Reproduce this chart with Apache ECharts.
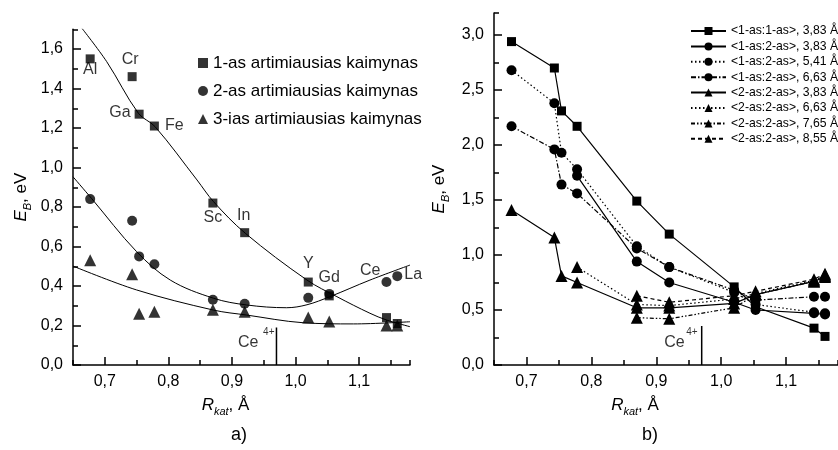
<!DOCTYPE html>
<html>
<head>
<meta charset="utf-8">
<script src="https://cdn.jsdelivr.net/npm/echarts@6/dist/echarts.min.js"></script>
<style>
  html, body { margin: 0; padding: 0; background: #fff; }
  #chart { width: 838px; height: 450px; }
</style>
</head>
<body>
<div id="chart"></div>
<script>
// cation radius, Å (same dopants in both panels)
const rKat = [0.677, 0.743, 0.754, 0.778, 0.87, 0.92, 1.02, 1.053, 1.143, 1.16]
const elements = ["Al", "Cr", "Ga", "Fe", "Sc", "In", "Y", "Gd", "Ce", "La"]

// a) binding energy vs nearest neighbour
const nn1 = [1.55, 1.46, 1.27, 1.21, 0.82, 0.67, 0.42, 0.35, 0.24, 0.21]
const nn2 = [0.84, 0.73, 0.55, 0.51, 0.33, 0.31, 0.34, 0.36, 0.42, 0.45]
const nn3 = [0.53, 0.46, 0.26, 0.27, 0.28, 0.27, 0.24, 0.22, 0.20, 0.20]
// fitted curves, points
const fit1 = [[0.664, 1.705], [0.703, 1.536], [0.753, 1.274], [0.779, 1.207], [0.845, 0.937], [0.871, 0.827],
  [0.921, 0.667], [1.018, 0.43], [1.065, 0.346], [1.117, 0.262], [1.143, 0.228], [1.18, 0.194]]
const fit2 = [[0.65, 0.953], [0.679, 0.844], [0.750, 0.574], [0.803, 0.43], [0.871, 0.338], [0.923, 0.304],
  [0.986, 0.29], [1.018, 0.305], [1.054, 0.346], [1.117, 0.43], [1.18, 0.506]]
const fit3 = [[0.65, 0.501], [0.750, 0.38], [0.871, 0.278], [0.923, 0.253], [1.012, 0.214], [1.091, 0.208], [1.18, 0.219]]
const namesA = ["1-as artimiausias kaimynas", "2-as artimiausias kaimynas", "3-ias artimiausias kaimynas"]

// b) pair binding energies
const b11_383 = [2.94, 2.70, 2.31, 2.17, 1.49, 1.19, 0.71, 0.53, 0.335, 0.26]
const b12_383 = [null, null, null, 1.72, 0.94, 0.75, 0.57, 0.50, 0.47, 0.46]
const b12_541 = [2.68, 2.38, 1.93, 1.78, 1.08, 0.89, 0.66, 0.55, 0.48, 0.47]
const b12_663 = [2.17, 1.96, 1.64, 1.56, 1.06, 0.89, 0.68, 0.59, 0.62, 0.62]
const b22_383 = [1.41, 1.16, 0.81, 0.75, 0.52, 0.52, 0.56, 0.64, 0.76, 0.80]
const b22_663 = [null, null, null, 0.89, 0.55, 0.54, 0.60, 0.65, 0.77, 0.81]
const b22_765 = [null, null, null, null, 0.43, 0.42, 0.52, 0.64, 0.76, 0.82]
const b22_855 = [null, null, null, null, 0.63, 0.57, 0.63, 0.67, 0.78, 0.83]
const namesB = [
  "<1-as:1-as>, 3,83 Å", "<1-as:2-as>, 3,83 Å", "<1-as:2-as>, 5,41 Å", "<1-as:2-as>, 6,63 Å",
  "<2-as:2-as>, 3,83 Å", "<2-as:2-as>, 6,63 Å", "<2-as:2-as>, 7,65 Å", "<2-as:2-as>, 8,55 Å"
]

// Ce4+ radius marker
const ce4x = 0.97
const ce4topA = 0.19
const ce4topB = 0.355

// ticks (labelled ones; minor ticks come from a half-step interval)
const xTicks = [0.7, 0.8, 0.9, 1.0, 1.1]
const yTicksA = [0, 0.2, 0.4, 0.6, 0.8, 1.0, 1.2, 1.4, 1.6]
const yTicksB = [0, 0.5, 1.0, 1.5, 2.0, 2.5, 3.0]

const FONT = "Liberation Sans"
const fmt = (v) => v.toFixed(1).replace(".", ",")
const pairs = (arr) => rKat.map((x, i) => [x, arr[i]]).filter((p) => p[1] != null)

const dotted = [1.5, 2.5]
const dashDot = [5, 2, 1.5, 2]
const dashDotDot = [4, 2, 1.5, 2, 1.5, 2]
const dashed = [4, 3]

const nameRich = {
  i: { fontStyle: "italic", fontSize: 17, fontFamily: FONT, color: "#000", verticalAlign: "middle", lineHeight: 24 },
  sub: { fontStyle: "italic", fontSize: 11, fontFamily: FONT, color: "#000", verticalAlign: "bottom", lineHeight: 12 },
  n: { fontSize: 17, fontFamily: FONT, color: "#000", verticalAlign: "middle", lineHeight: 24 }
}

function mainX(grid, pad) {
  return {
    type: "value", gridIndex: grid, min: 0.65, max: 1.18, position: "bottom",
    axisLine: { show: true, onZero: false, lineStyle: { color: "#000", width: 1.5 } },
    axisTick: { show: true, inside: true, length: 8, customValues: xTicks, lineStyle: { color: "#000", width: 1.5 } },
    axisLabel: { customValues: xTicks, formatter: fmt, color: "#000", fontSize: 16, fontFamily: FONT, margin: 9 },
    splitLine: { show: false },
    name: "{i|R}{sub|kat}{n|, Å}", nameLocation: "middle", nameGap: 28,
    nameTextStyle: { rich: nameRich, padding: [0, pad, 0, 0] }
  }
}
function minorX(grid) {
  return {
    type: "value", gridIndex: grid, min: 0.65, max: 1.18, interval: 0.05, position: "bottom",
    axisLine: { show: false, onZero: false },
    axisTick: { show: true, inside: true, length: 5, lineStyle: { color: "#000", width: 1.5 } },
    axisLabel: { show: false }, splitLine: { show: false }
  }
}
function mainY(grid, max, ticks, gap) {
  return {
    type: "value", gridIndex: grid, min: 0, max: max, position: "left",
    axisLine: { show: true, onZero: false, lineStyle: { color: "#000", width: 1.5 } },
    axisTick: { show: true, inside: true, length: 8, customValues: ticks, lineStyle: { color: "#000", width: 1.5 } },
    axisLabel: { customValues: ticks, formatter: fmt, color: "#000", fontSize: 16, fontFamily: FONT, margin: 10 },
    splitLine: { show: false },
    name: "{i|E}{sub|B}{n|, eV}", nameLocation: "middle", nameGap: gap, nameRotate: 90,
    nameTextStyle: { rich: nameRich }
  }
}
function minorY(grid, max, step) {
  return {
    type: "value", gridIndex: grid, min: 0, max: max, interval: step, position: "left",
    axisLine: { show: false, onZero: false },
    axisTick: { show: true, inside: true, length: 5, lineStyle: { color: "#000", width: 1.5 } },
    axisLabel: { show: false }, splitLine: { show: false }
  }
}

// label placement for element names in panel a
const sqLabel = {
  Al: { position: "bottom", distance: -2 },
  Cr: { position: "top", distance: 5, offset: [-2, 0] },
  Ga: { position: "left", distance: 4, offset: [0, -2] },
  Fe: { position: "right", distance: 6 },
  Sc: { position: "bottom", distance: 2 },
  In: { position: "top", distance: 5, offset: [-1, 0] },
  Y: { position: "top", distance: 6 },
  Gd: { position: "top", distance: 6 }
}
const ciLabel = {
  Ce: { position: "left", distance: 1, offset: [0, -11] },
  La: { position: "right", distance: 2, offset: [0, -2] }
}
const labelText = { color: "#000", fontSize: 16, fontFamily: FONT }

function labelled(arr, map) {
  return rKat.map((x, i) => {
    const l = map[elements[i]]
    const item = { value: [x, arr[i]] }
    if (l) item.label = Object.assign({ show: true, formatter: elements[i] }, labelText, l)
    return item
  })
}

// vertical Ce4+ marker; "Ce" and superscript "4+" hang on invisible anchors left of it
function ceSeries(xi, yi, top, ceY, supY, ceDist, supDist) {
  return [
    { type: "line", xAxisIndex: xi, yAxisIndex: yi, symbol: "none", silent: true,
      lineStyle: { color: "#000", width: 1.5 }, data: [[ce4x, 0], [ce4x, top]] },
    { type: "scatter", xAxisIndex: xi, yAxisIndex: yi, symbolSize: 2, silent: true,
      itemStyle: { color: "rgba(0,0,0,0)" }, labelLayout: { hideOverlap: false },
      data: [
        { value: [ce4x, ceY], label: Object.assign({ show: true, position: "left", distance: ceDist, formatter: "Ce" }, labelText) },
        { value: [ce4x, supY], label: Object.assign({ show: true, position: "left", distance: supDist, formatter: "4+" }, labelText, { fontSize: 10 }) }
      ] }
  ]
}

const black = "#000"
function fitSeries(pts) {
  return { type: "line", xAxisIndex: 0, yAxisIndex: 0, symbol: "none", smooth: 0.35, silent: true, z: 1,
    lineStyle: { color: black, width: 1 }, data: pts }
}
function bSeries(name, arr, symbol, size, dash) {
  return {
    name, type: "line", xAxisIndex: 2, yAxisIndex: 2, data: pairs(arr),
    symbol, symbolSize: size, itemStyle: { color: black },
    lineStyle: { color: black, width: 1.2, type: dash }
  }
}

const chart = echarts.init(document.getElementById("chart"))
chart.setOption({
  animation: false,
  backgroundColor: "#fff",
  textStyle: { fontFamily: FONT },
  grid: [
    { left: 73, top: 29.25, width: 337, height: 335.75 },
    { left: 494, top: 13, width: 354.6, height: 352 }
  ],
  xAxis: [mainX(0, 32), minorX(0), mainX(1, 62), minorX(1)],
  yAxis: [mainY(0, 1.7, yTicksA, 40), minorY(0, 1.7, 0.1), mainY(1, 3.2, yTicksB, 43), minorY(1, 3.2, 0.25)],
  legend: [
    {
      left: 198, top: 53, padding: 0, orient: "vertical", itemWidth: 10, itemHeight: 10, itemGap: 8,
      textStyle: { fontSize: 17, lineHeight: 20, color: black, fontFamily: FONT },
      data: namesA
    },
    {
      left: 690, top: 24, padding: 0, orient: "vertical", itemWidth: 35, itemHeight: 10, itemGap: 1.4,
      textStyle: { fontSize: 12.2, lineHeight: 14, color: black, fontFamily: FONT },
      data: namesB
    }
  ],
  graphic: [
    { type: "text", left: 231, top: 426, style: { text: "a)", fontSize: 18, fontFamily: FONT, fill: black } },
    { type: "text", left: 642, top: 426, style: { text: "b)", fontSize: 18, fontFamily: FONT, fill: black } }
  ],
  series: [
    fitSeries(fit1), fitSeries(fit2), fitSeries(fit3),
    { name: namesA[0], type: "scatter", xAxisIndex: 0, yAxisIndex: 0, symbol: "rect", symbolSize: 9,
      itemStyle: { color: black }, data: labelled(nn1, sqLabel) },
    { name: namesA[1], type: "scatter", xAxisIndex: 0, yAxisIndex: 0, symbol: "circle", symbolSize: 10,
      itemStyle: { color: black }, data: labelled(nn2, ciLabel) },
    { name: namesA[2], type: "scatter", xAxisIndex: 0, yAxisIndex: 0, symbol: "triangle", symbolSize: 12,
      itemStyle: { color: black }, data: pairs(nn3) },
    ...ceSeries(0, 0, ce4topA, 0.111, 0.165, 17, 1),

    bSeries(namesB[0], b11_383, "rect", 9, "solid"),
    bSeries(namesB[1], b12_383, "circle", 10, "solid"),
    bSeries(namesB[2], b12_541, "circle", 10, dotted),
    bSeries(namesB[3], b12_663, "circle", 10, dashDot),
    bSeries(namesB[4], b22_383, "triangle", 12, "solid"),
    bSeries(namesB[5], b22_663, "triangle", 12, dotted),
    bSeries(namesB[6], b22_765, "triangle", 12, dashDotDot),
    bSeries(namesB[7], b22_855, "triangle", 12, dashed),
    ...ceSeries(2, 2, ce4topB, 0.2, 0.3, 16, 3)
  ]
})
</script>
</body>
</html>
